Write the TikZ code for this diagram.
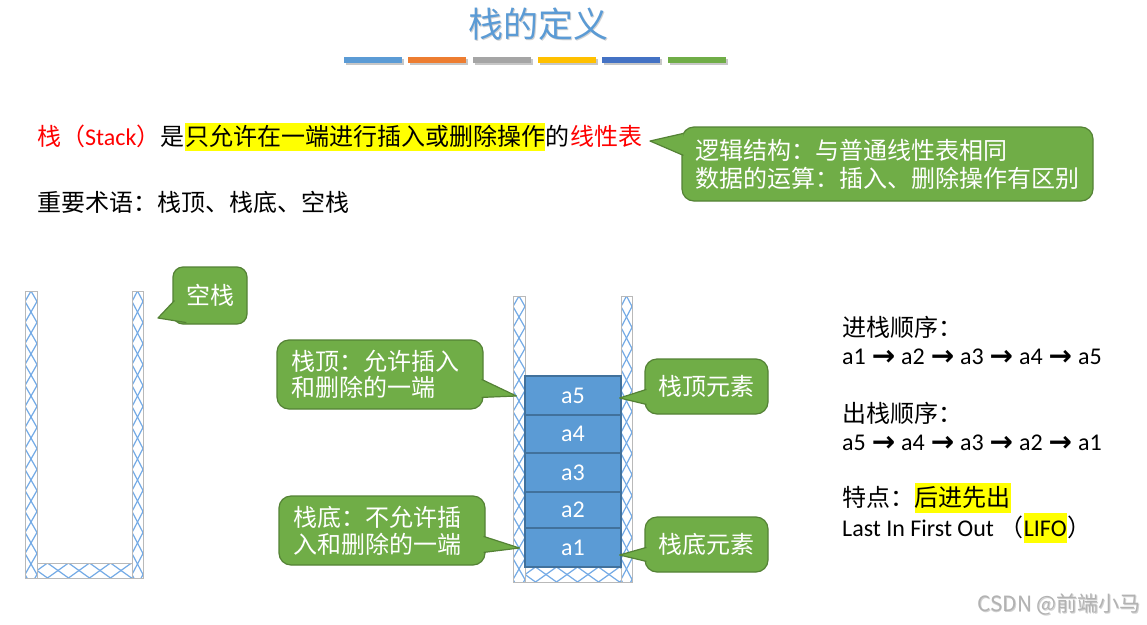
\documentclass[tikz,border=0pt]{standalone}
\usepackage{fontspec}
\setmainfont{Noto Sans CJK SC}
\newfontfamily\lat{Carlito}
\newfontfamily\dv{DejaVu Sans}
\usetikzlibrary{calc}
\definecolor{tblue}{RGB}{91,155,213}
\definecolor{torange}{RGB}{237,125,49}
\definecolor{tgray}{RGB}{165,165,165}
\definecolor{tgold}{RGB}{255,192,0}
\definecolor{tdblue}{RGB}{68,114,196}
\definecolor{tgreen}{RGB}{112,173,71}
\definecolor{cborder}{RGB}{84,130,53}
\definecolor{hlyellow}{RGB}{255,255,0}
\definecolor{tred}{RGB}{255,0,0}
\definecolor{hatchc}{RGB}{115,170,230}
\definecolor{wallc}{RGB}{185,185,185}
\definecolor{blkborder}{RGB}{65,113,156}
\newcommand\myhatchV[4]{%
  \begin{scope}
    \clip (#1,#2) rectangle ++(#3,#4);
    \foreach \k in {0,...,7} {
      \draw[hatch] (#1,#2+42*\k-10.5) -- (#1+#3,#2+42*\k+10.5) -- (#1,#2+42*\k+31.5);
      \draw[hatch] (#1+#3,#2+42*\k-10.5) -- (#1,#2+42*\k+10.5) -- (#1+#3,#2+42*\k+31.5);
    }
  \end{scope}
  \draw[wall] (#1,#2) rectangle ++(#3,#4);
}
\newcommand\myhatchH[4]{%
  \begin{scope}
    \clip (#1,#2) rectangle ++(#3,#4);
    \foreach \k in {0,...,3} {
      \draw[hatch] (#1+42*\k-10.5,#2) -- (#1+42*\k+10.5,#2+#4) -- (#1+42*\k+31.5,#2);
      \draw[hatch] (#1+42*\k-10.5,#2+#4) -- (#1+42*\k+10.5,#2) -- (#1+42*\k+31.5,#2+#4);
    }
  \end{scope}
  \draw[wall] (#1,#2) rectangle ++(#3,#4);
}
\newcommand\myarr{\hspace{0.5pt}\raisebox{-1.5pt}{\dv\bfseries\fontsize{28}{28}\selectfont →}\hspace{0.5pt}}
\tikzset{
  hatch/.style={draw=hatchc, line width=1.2pt},
  wall/.style={draw=wallc, line width=0.9pt},
  tx/.style={inner sep=0pt, anchor=west, text height=20pt, text depth=4pt, font=\fontsize{24}{28}\selectfont},
  cbox/.style={fill=tgreen, draw=cborder, line width=1.2pt, rounded corners=12pt, text=white, font=\fontsize{24}{28}\selectfont, inner sep=0pt},
  ctip/.style={fill=tgreen, draw=cborder, line width=1.2pt, line join=round},
  blk/.style={fill=tblue, draw=blkborder, line width=1.2pt, text=white, font=\lat\fontsize{24}{28}\selectfont, minimum width=96pt, inner sep=0pt}
}
\begin{document}
\begin{tikzpicture}[x=1pt,y=-1pt]
\fill[white] (0,0) rectangle (1147,624);
\useasboundingbox (0,0) rectangle (1147,624);

% title
\node[font=\fontsize{35}{40}\selectfont, text=black!18] at (539.5,25.5) {栈的定义};
\node[font=\fontsize{35}{40}\selectfont, text=tblue] (title) at (538,24) {栈的定义};

% colour bars
\foreach \xa/\c in {344/tblue,408/torange,473/tgray,538/tgold,602/tdblue,668/tgreen}{
  \fill[black!22] (\xa+1.5,59) rectangle ++(58,6);
  \fill[\c] (\xa,57) rectangle ++(58,6);
}

% line 1
\node[tx, text=tred] (l1a) at (37,137) {栈（{\lat Stack}）};
\node[tx] (l1b) at (l1a.east) {是};
\node[tx, fill=hlyellow, inner ysep=2pt] (l1c) at (l1b.east) {只允许在一端进行插入或删除操作};
\node[tx] (l1d) at (l1c.east) {的};
\node[tx, text=tred] (l1e) at (l1d.east) {线性表};

% line 2
\node[tx] (l2) at (37,203) {重要术语：栈顶、栈底、空栈};

% top right callout
\node[cbox, minimum width=411pt, minimum height=74pt, align=left] (c1) at (887.5,164) {逻辑结构：与普通线性表相同\\数据的运算：插入、删除操作有区别};
\coordinate (c1tip) at (650,141);
\path[ctip] ($(c1.north west)+(2,7)$) -- (c1tip) -- ($(c1.north west)+(2,29)$);

% empty stack
\myhatchV{25}{291}{12}{287}
\myhatchV{132}{291}{11}{287}
\myhatchH{37}{563}{95}{15}

\node[cbox, minimum width=74pt, minimum height=57pt, rounded corners=10pt] (c2) at (210,295.5) {空栈};
\coordinate (c2tip) at (158,318);
\path[ctip] ($(c2.south west)+(2,-24)$) -- (c2tip) -- ($(c2.south west)+(14,-2)$);

% stack with elements
\myhatchV{513}{296}{12}{286}
\myhatchV{621}{296}{11}{286}
\myhatchH{525}{567}{96}{15}

\node[blk, minimum height=39pt] (a5) at (573,395.5) {a5};
\node[blk, minimum height=38pt] (a4) at (573,434) {a4};
\node[blk, minimum height=39pt] (a3) at (573,472.5) {a3};
\node[blk, minimum height=36pt] (a2) at (573,510) {a2};
\node[blk, minimum height=39pt] (a1) at (573,547.5) {a1};

% callouts around the stack
\node[cbox, minimum width=206pt, minimum height=69pt, text width=178pt, inner xsep=14pt, align=left, font=\fontsize{24}{26}\selectfont] (c3) at (380,374.5) {栈顶：允许插入\\和删除的一端};
\coordinate (c3tip) at ($(a5.west)+(-8,0.5)$);
\path[ctip] ($(c3.north east)+(-2,40)$) -- (c3tip) -- ($(c3.north east)+(-2,58)$);

\node[cbox, minimum width=206pt, minimum height=69pt, text width=178pt, inner xsep=14pt, align=left, font=\fontsize{24}{27}\selectfont] (c4) at (382,530.5) {栈底：不允许插\\入和删除的一端};
\coordinate (c4tip) at ($(a1.west)+(-5,0.5)$);
\path[ctip] ($(c4.north east)+(-2,41)$) -- (c4tip) -- ($(c4.north east)+(-2,57)$);

\node[cbox, minimum width=123pt, minimum height=55pt] (c5) at (706.5,386.5) {栈顶元素};
\coordinate (c5tip) at ($(a5.east)+(-2,2.5)$);
\path[ctip] ($(c5.north west)+(2,31)$) -- (c5tip) -- ($(c5.north west)+(2,46)$);

\node[cbox, minimum width=123pt, minimum height=55pt] (c6) at (706.5,544.5) {栈底元素};
\coordinate (c6tip) at ($(a1.east)+(-2,7.5)$);
\path[ctip] ($(c6.north west)+(2,31)$) -- (c6tip) -- ($(c6.north west)+(2,45)$);

% right text
\node[tx] (r1) at (842,328) {进栈顺序：};
\node[tx] (r2) at (842,356) {\lat a1 \myarr{} a2 \myarr{} a3 \myarr{} a4 \myarr{} a5};
\node[tx] (r3) at (842,414) {出栈顺序：};
\node[tx] (r4) at (842,442) {\lat a5 \myarr{} a4 \myarr{} a3 \myarr{} a2 \myarr{} a1};
\node[tx] (r5) at (842,498) {特点：};
\node[tx, fill=hlyellow, inner ysep=3pt] (r6) at (r5.east) {后进先出};
\node[tx] (r7) at (842,528) {{\lat Last In First Out} （};
\node[tx, fill=hlyellow, inner ysep=3pt] (r8) at (r7.east) {\lat LIFO};
\node[tx] (r9) at (r8.east) {）};

% watermark
\node[font=\fontsize{21}{24}\selectfont, text=black!18] at (1141.8,605.8) [anchor=east, inner sep=0pt] {CSDN @前端小马};
\node[font=\fontsize{21}{24}\selectfont, text=black!30, anchor=east, inner sep=0pt] (wm) at (1141,604) {CSDN @前端小马};
\end{tikzpicture}
\end{document}
